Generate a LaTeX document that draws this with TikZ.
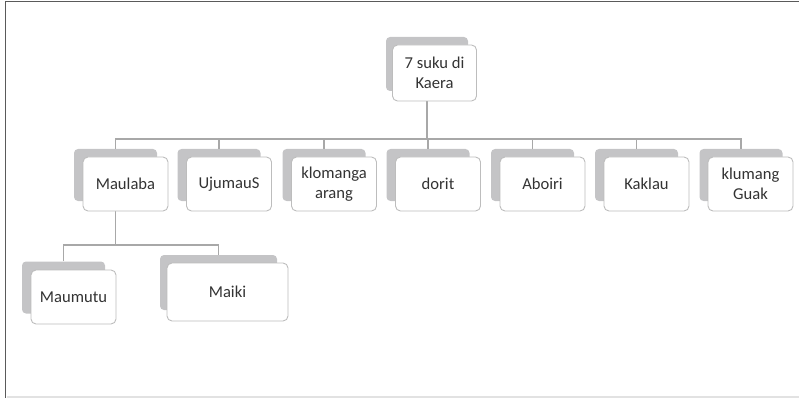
\documentclass[tikz,border=0pt]{standalone}
\usepackage{fontspec}
\setmainfont{Carlito}
\definecolor{shadowgray}{HTML}{C4C4C6}
\definecolor{edgegray}{HTML}{BDBDBD}
\definecolor{linkgray}{HTML}{A8A8A8}
\definecolor{textgray}{HTML}{333333}
\definecolor{framedark}{HTML}{5A5A5A}
\definecolor{framelight}{HTML}{E2E2E2}
\tikzset{
  back/.style={draw=none, fill=shadowgray, rounded corners=4pt, inner sep=0pt,
    minimum width=#1, minimum height=52pt},
  back/.default=83pt,
  card/.style={draw=edgegray, line width=0.9pt, fill=white, rounded corners=5pt,
    inner sep=0pt, minimum width=#1, minimum height=54pt, align=center,
    text=textgray, font=\fontsize{16.6}{19.5}\selectfont},
  card/.default=85pt,
  link/.style={draw=linkgray, line width=1.6pt}
}
\begin{document}
\begin{tikzpicture}[x=1pt, y=-1pt]
  \useasboundingbox (0,0) rectangle (799,398);
  % frame
  \draw[framedark, line width=1.8pt] (5.5,398) -- (5.5,1.5) -- (799,1.5);
  \draw[framelight, line width=1.5pt] (7,397) -- (799,397);

  % bus coordinates
  \coordinate (bus1) at (0,139);
  \coordinate (bus2) at (0,245);

  % shadow plates
  \node[back=82pt, minimum height=54pt] (s0) at (427,64) {};
  \foreach \i/\x in {1/115.5,2/219,3/324,4/428,5/532.5,6/636.5,7/741}
    \node[back] (s\i) at (\x,175) {};
  \node[back] (m1) at (63.5,287.5) {};
  \node[back=117pt, minimum height=55pt] (m2) at (218.5,282.5) {};

  % connectors
  \foreach \i in {1,...,7}
    \draw[link] (s0.south) -- (s0.south |- bus1) -| (s\i.north);
  \foreach \i in {1,2}
    \draw[link] (s1.south) -- (s1.south |- bus2) -| (m\i.north);

  % front cards
  \node[card=84pt, minimum height=56pt] (f0) at (434.5,73) {7 suku di\\Kaera};
  \node[card] (f1) at (125.5,184) {Maulaba};
  \node[card] (f2) at (229,184) {UjumauS};
  \node[card] (f3) at (334,184) {klomanga\\arang};
  \node[card] (f4) at (438,184) {dorit};
  \node[card] (f5) at (542.5,184) {Aboiri};
  \node[card] (f6) at (646.5,184) {Kaklau};
  \node[card] (f7) at (750.5,184) {klumang\\Guak};
  \node[card] (g1) at (73.5,297) {Maumutu};
  \node[card=121pt, minimum height=58pt] (g2) at (227.5,292) {Maiki};
\end{tikzpicture}
\end{document}
